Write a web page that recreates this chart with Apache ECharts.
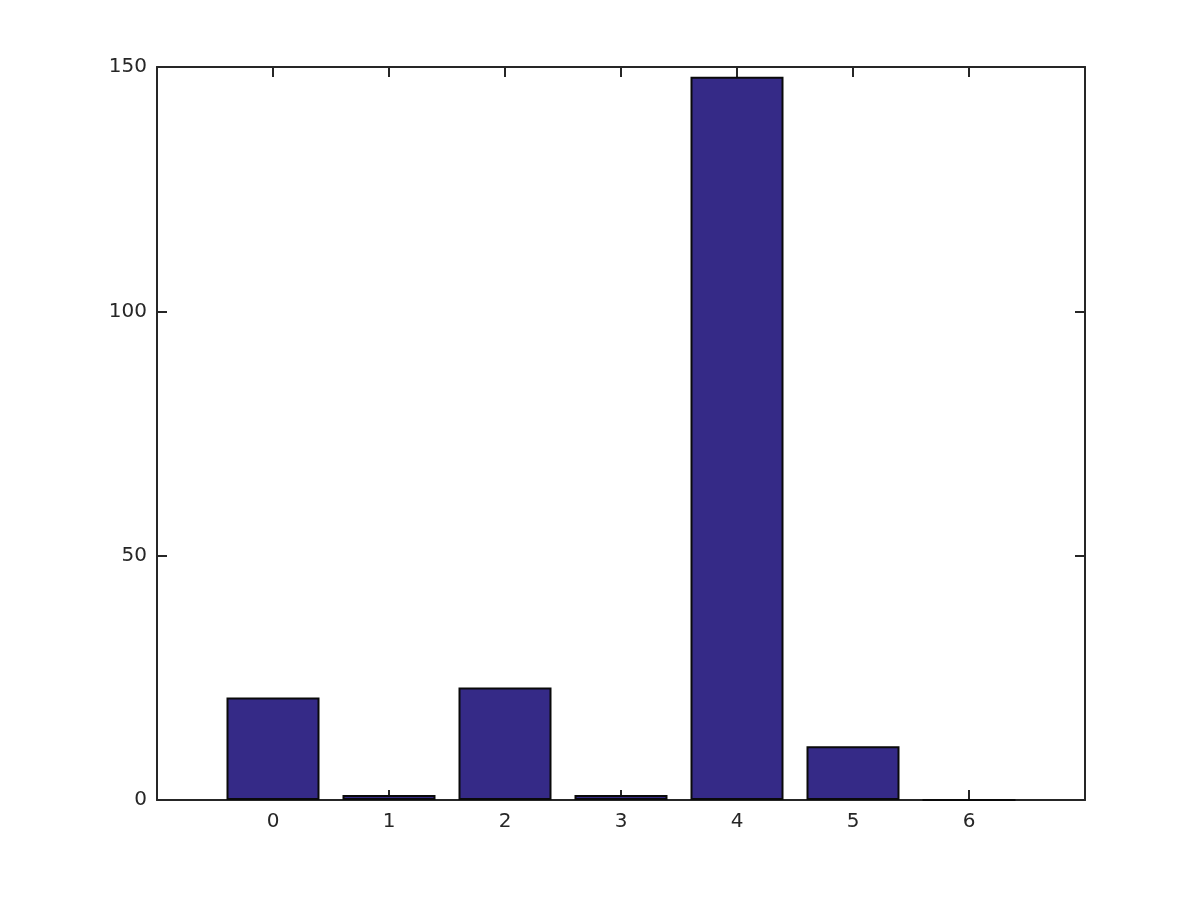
<!DOCTYPE html>
<html>
<head>
<meta charset="utf-8">
<script src="https://cdn.jsdelivr.net/npm/echarts@6/dist/echarts.min.js"></script>
<style>html,body{margin:0;padding:0;background:#fff;}#c{width:1200px;height:900px;}</style>
</head>
<body>
<div id="c"></div>
<script>
const categories = [0, 1, 2, 3, 4, 5, 6];
const values = [21, 1, 23, 1, 148, 11, 0];
const yTicks = [0, 50, 100, 150];

const chart = echarts.init(document.getElementById('c'), null, {renderer: 'canvas'});
const axisColor = '#262626';
const font = {fontFamily: 'DejaVu Sans', fontSize: 20, color: axisColor};
const xLabelSet = new Set(categories);
const lineStyle = {color: axisColor, width: 2};
const tickStyle = {show: true, inside: true, length: 10, lineStyle: {color: axisColor, width: 2}};

chart.setOption({
  animation: false,
  backgroundColor: '#fff',
  grid: {left: 157, right: 115, top: 67, bottom: 100, containLabel: false},
  xAxis: [{
    type: 'value', min: -1, max: 7, interval: 1, position: 'bottom',
    axisLine: {show: true, onZero: false, lineStyle: lineStyle},
    axisTick: tickStyle,
    splitLine: {show: false},
    axisLabel: Object.assign({margin: 12, formatter: v => xLabelSet.has(v) ? String(v) : ''}, font)
  }, {
    type: 'value', min: -1, max: 7, interval: 1, position: 'top',
    axisLine: {show: true, onZero: false, lineStyle: lineStyle},
    axisTick: tickStyle,
    splitLine: {show: false},
    axisLabel: {show: false}
  }],
  yAxis: [{
    type: 'value', min: yTicks[0], max: yTicks[yTicks.length - 1], interval: 50, position: 'left',
    axisLine: {show: true, onZero: false, lineStyle: lineStyle},
    axisTick: tickStyle,
    splitLine: {show: false},
    axisLabel: Object.assign({margin: 10}, font)
  }, {
    type: 'value', min: yTicks[0], max: yTicks[yTicks.length - 1], interval: 50, position: 'right',
    axisLine: {show: true, onZero: false, lineStyle: lineStyle},
    axisTick: tickStyle,
    splitLine: {show: false},
    axisLabel: {show: false}
  }],
  series: [{
    type: 'bar',
    xAxisIndex: 0, yAxisIndex: 0,
    barWidth: 93,
    data: categories.map((c, i) => [c, values[i]]),
    itemStyle: {color: '#352a87', borderColor: '#0a0a0a', borderWidth: 2},
    z: 1
  }]
});
</script>
</body>
</html>
